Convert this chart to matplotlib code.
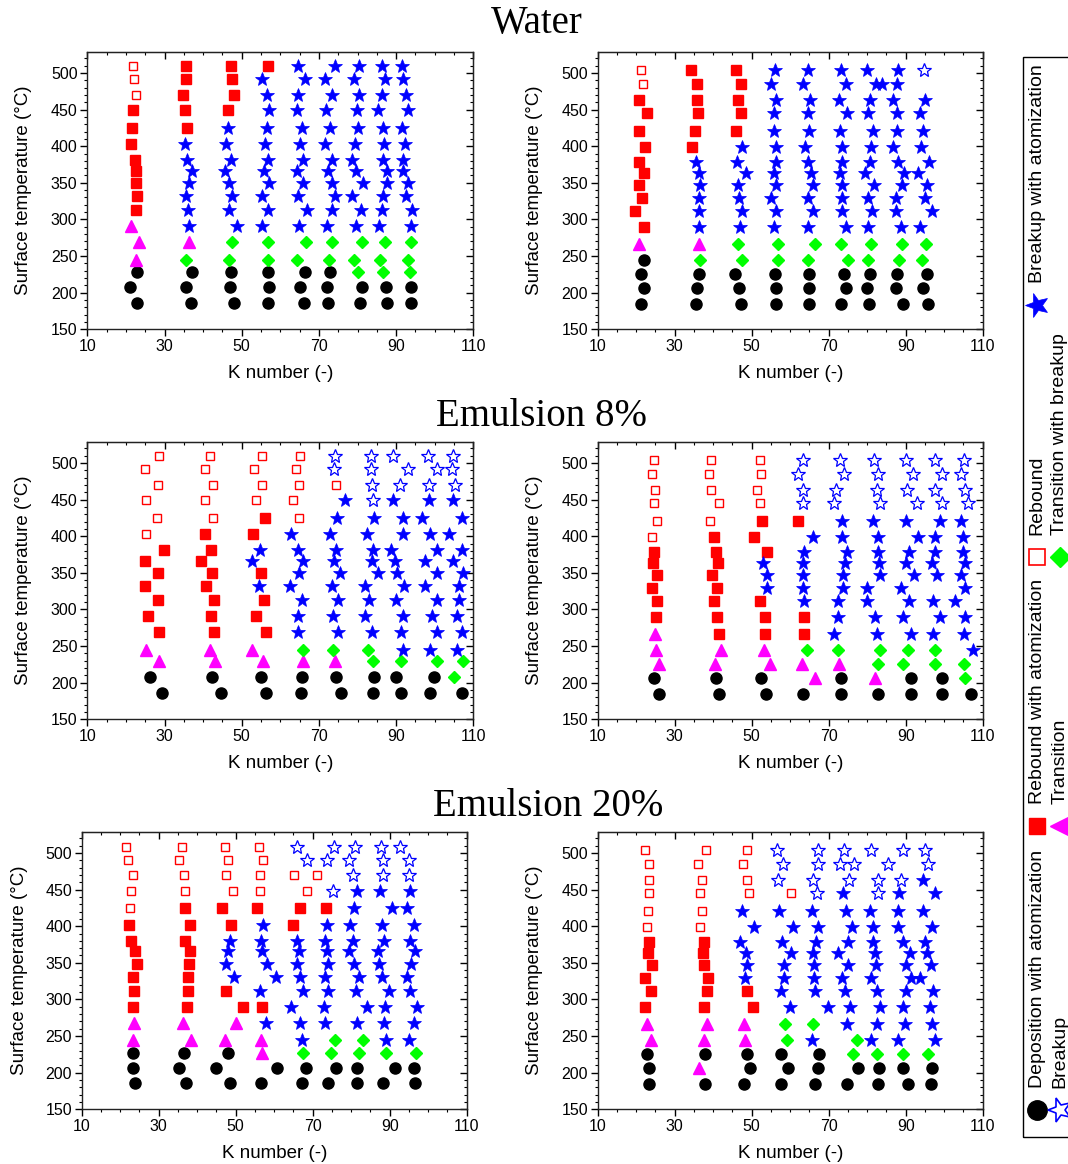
import matplotlib.pyplot as plt
from matplotlib.lines import Line2D
from matplotlib.markers import MarkerStyle
from matplotlib.patches import Rectangle
from matplotlib.ticker import MultipleLocator, FixedLocator
from matplotlib.transforms import Affine2D

plt.rcParams['font.family'] = ['Liberation Sans', 'DejaVu Sans']

# regime codes per point (bottom -> top in each column):
# c deposition with atomization, t transition, S rebound with atomization,
# s rebound, d transition with breakup, X breakup with atomization, x breakup, . none

# ---- Water, left
T_water_l = [186, 208, 228, 245, 269, 291, 313, 332, 350, 366, 381, 403, 425, 449, 470, 492, 509]
K_water_l = [
    [22.8, 21.1, 23.0, 22.5, 23.3, 21.2, 22.7, 22.8, 22.6, 22.5, 22.3, 21.3, 21.7, 21.9, 22.6, 22.1, 21.9],
    [36.8, 35.5, 37.0, 35.6, 36.3, 36.4, 36.0, 35.6, 36.3, 37.0, 35.7, 35.4, 35.8, 35.2, 34.9, 35.6, 35.6],
    [48.1, 47.0, 47.1, 46.7, 47.5, 48.9, 46.8, 47.4, 46.8, 45.8, 47.3, 45.9, 46.4, 46.5, 48.0, 47.5, 47.3],
    [56.7, 57.0, 56.7, 56.7, 56.9, 55.3, 56.7, 55.3, 57.2, 55.9, 56.8, 56.0, 56.6, 57.0, 56.6, 55.3, 56.9],
    [66.2, 65.1, 66.5, 64.4, 66.6, 64.9, 67.0, 64.6, 66.0, 64.2, 66.0, 65.1, 65.6, 64.4, 64.7, 66.4, 64.7],
    [72.4, 72.2, 72.9, 72.6, 73.5, 72.0, 73.3, 74.2, 73.3, 72.4, 73.5, 71.6, 73.0, 71.8, 73.3, 71.6, 74.2],
    [80.6, 81.1, 80.2, 79.1, 81.1, 79.6, 80.9, 78.7, 81.3, 79.6, 78.7, 79.4, 80.0, 79.8, 80.5, 79.1, 80.5],
    [87.6, 87.4, 86.7, 85.8, 87.0, 85.6, 86.3, 86.5, 87.6, 87.6, 86.7, 86.9, 86.7, 85.4, 86.3, 87.1, 86.4],
    [93.8, 93.9, 93.6, 93.2, 93.9, 93.8, 94.2, 92.6, 93.2, 91.9, 91.7, 92.3, 91.6, 93.0, 92.6, 91.7, 91.5],
]
C_water_l = ["ccctttSSSSSSSSsss", "cccdtXXXXXXXSSSSS", "cccddXXXXXXXXSSSS",
             "cccddXXXXXXXXXXXS", "cccddXXXXXXXXXXXX", "cccddXXXXXXXXXXXX",
             "ccdddXXXXXXXXXXXX", "ccdddXXXXXXXXXXXX", "ccdddXXXXXXXXXXXX"]
E_water_l = []

# ---- Water, right
T_water_r = [185, 206, 225, 244, 267, 289, 311, 329, 347, 363, 378, 399, 421, 445, 463, 485, 504]
K_water_r = [
    [21.2, 21.9, 21.3, 22.0, 20.8, 21.9, 19.7, 21.6, 20.6, 21.9, 20.7, 22.2, 20.7, 22.7, 20.6, 21.7, 21.3],
    [35.5, 35.9, 36.4, 36.6, 36.3, 36.3, 36.3, 36.4, 36.6, 36.4, 35.5, 34.4, 35.3, 36.0, 35.8, 35.7, 34.2],
    [47.2, 46.8, 45.7, 47.6, 46.4, 47.0, 47.4, 46.8, 46.5, 48.5, 46.3, 47.4, 45.8, 47.1, 46.5, 47.2, 46.0],
    [56.3, 56.2, 56.1, 56.8, 56.9, 55.8, 56.2, 55.0, 56.3, 55.8, 56.2, 56.2, 55.9, 55.9, 56.2, 55.0, 56.1],
    [64.9, 65.0, 64.8, 64.6, 66.5, 64.7, 65.8, 64.6, 65.8, 65.4, 64.6, 63.9, 65.0, 64.6, 65.2, 63.3, 64.6],
    [73.1, 74.4, 74.1, 74.9, 73.1, 74.6, 73.4, 73.4, 73.4, 73.0, 73.4, 73.4, 73.0, 74.7, 72.8, 74.5, 73.2],
    [80.5, 79.9, 80.8, 80.3, 81.0, 80.3, 81.2, 80.1, 81.8, 79.5, 80.8, 81.0, 81.6, 80.3, 80.8, 82.2, 79.9],
    [89.2, 87.4, 87.7, 88.3, 89.0, 88.8, 87.4, 87.4, 89.0, 89.6, 88.1, 86.6, 87.8, 87.7, 86.8, 87.7, 87.9],
    [95.9, 94.4, 95.5, 94.2, 95.2, 93.7, 96.8, 94.9, 95.5, 93.3, 96.1, 93.9, 94.6, 93.7, 94.9, None, 94.8],
]
C_water_r = ["cccctSSSSSSSSSSss", "cccdtXXXXXXSSSSSS", "cccddXXXXXXXSSSSS",
             "cccddXXXXXXXXXXXX", "cccddXXXXXXXXXXXX", "cccddXXXXXXXXXXXX",
             "cccddXXXXXXXXXXXX", "cccddXXXXXXXXXXXX", "cccddXXXXXXXXXX.x"]
E_water_r = [(83.8, 485, 'X')]

# ---- Emulsion 8%, left
T_e8_l = [186, 208, 230, 245, 269, 291, 313, 332, 350, 366, 381, 403, 425, 449, 470, 492, 509]
K_e8_l = [
    [29.3, 26.2, 28.7, 25.1, 28.7, 25.6, 28.2, 24.9, 28.3, 25.0, 29.9, 25.2, 28.0, 25.1, 28.4, 24.9, 28.6],
    [44.6, 42.2, 43.1, 41.8, 42.9, 42.0, 42.8, 40.7, 42.2, 39.4, 42.1, 40.4, 42.5, 40.6, 42.6, 40.5, 41.8],
    [56.2, 55.0, 55.4, 52.7, 56.3, 53.6, 55.8, 54.6, 55.1, 52.6, 54.7, 52.9, 56.1, 53.6, 55.3, 53.3, 55.2],
    [65.3, 65.6, 66.0, 65.8, 64.7, 64.7, 65.5, 62.5, 64.9, 66.0, 64.7, 62.7, 64.8, 63.4, 64.8, 64.1, 65.0],
    [75.6, 74.4, 74.2, 73.7, 75.0, 73.7, 75.0, 73.5, 75.5, 74.0, 74.4, 73.0, 74.6, 76.8, 74.4, 74.0, 74.3],
    [83.9, 84.3, 83.9, 82.8, 83.7, 81.9, 83.1, 81.9, 85.2, 83.7, 83.9, 82.4, 84.3, 83.9, 83.7, 83.5, 83.5],
    [91.2, 90.0, 91.2, 91.7, 91.2, 91.7, 90.0, 92.0, 90.3, 89.7, 88.8, 91.9, 91.7, 89.3, 91.0, 93.2, 89.1],
    [98.8, 99.8, 100.5, 98.9, 100.7, 99.2, 100.5, 97.5, 100.5, 97.5, 100.5, 98.8, 96.6, 98.6, 98.6, 100.5, 98.3],
    [107.0, 105.1, 107.4, 105.9, 107.2, 105.9, 106.4, 106.4, 107.4, 104.8, 107.0, 103.8, 107.0, 104.7, 105.3, 104.6, 104.7],
]
C_e8_l = ["ccttSSSSSSSssssss", "ccttSSSSSSSSsssss", "ccttSSSXSXXSSssss",
          "cctdXXXXXXXXsssss", "cctdXXXXXXXXXXsxx", "ccddXXXXXXXXXxxxx",
          "ccdXXXXXXXXXXXxxx", "ccdXXXXXXXXXXXxxx", "cddXXXXXXXXXXXxxx"]
E_e8_l = []

# ---- Emulsion 8%, right
T_e8_r = [185, 206, 225, 244, 267, 289, 311, 329, 347, 363, 378, 399, 421, 445, 463, 485, 504]
K_e8_r = [
    [25.8, 24.5, 26.0, 25.1, 24.9, 25.2, 25.4, 24.2, 25.4, 24.4, 24.6, 24.1, 25.4, 24.5, 24.9, 24.2, 24.5],
    [41.5, 40.7, 40.5, 42.0, 41.6, 41.0, 40.2, 40.9, 39.8, 41.2, 40.7, 40.3, 39.2, 41.5, 39.4, 38.9, 39.4],
    [53.6, 52.3, 54.8, 53.2, 53.5, 53.5, 52.2, 53.9, 53.9, 52.9, 53.9, 50.7, 52.8, 52.1, 51.5, 52.3, 52.2],
    [63.2, 66.5, 63.0, 64.4, 63.6, 63.7, 63.7, 63.4, 63.3, 63.2, 63.6, 65.8, 62.1, 63.2, 63.4, 62.1, 63.2],
    [73.2, 73.2, 72.8, 72.5, 71.5, 72.4, 72.5, 73.8, 73.6, 74.3, 74.7, 73.4, 73.4, 71.5, 71.9, 74.1, 73.0],
    [82.9, 81.9, 82.9, 83.4, 82.5, 81.9, 79.9, 79.9, 83.3, 83.1, 82.9, 82.7, 81.6, 83.4, 82.5, 82.9, 81.7],
    [91.4, 91.4, 89.4, 90.5, 91.4, 89.4, 90.9, 88.8, 92.2, 90.0, 90.9, 93.3, 90.0, 92.9, 90.3, 91.8, 90.0],
    [99.5, 99.5, 97.6, 97.5, 97.2, 98.9, 97.2, None, 98.2, 96.8, 97.6, 97.6, 98.9, 99.5, 97.6, 99.5, 97.5],
    [107.0, 105.3, 105.2, 107.6, 105.2, 105.3, 102.7, 105.4, 104.3, 105.4, 105.0, 104.8, 104.3, 106.3, 105.3, 104.3, 105.2],
]
C_e8_r = ["cctttSSSSSSssssss", "ccttSSSSSSSSsssss", "ccttSSSXXXSSSssss",
          "cttdSSXXXXXXSxxxx", "cctdXXXXXXXXXxxxx", "ctddXXXXXXXXXxxxx",
          "ccddXXXXXXXXXxxxx", "ccddXXX.XXXXXxxxx", "cddXXXXXXXXXXxxxx"]
E_e8_r = []

# ---- Emulsion 20%, left
T_e20_l = [185.5, 207, 227, 244.5, 268, 290, 312, 331, 349, 365.5, 380, 402, 424.5, 448, 469.5, 491, 508]
K_e20_l = [
    [23.9, 23.4, 23.4, 23.2, 23.7, 23.2, 23.5, 23.2, 24.3, 23.9, 22.7, 22.4, 22.5, 22.9, 23.2, 21.9, 21.4],
    [37.0, 35.4, 36.7, 38.4, 36.2, 37.4, 37.7, 37.6, 37.9, 38.0, 36.9, 38.1, 36.8, 36.9, 36.7, 35.3, 36.0],
    [48.5, 44.9, 48.1, 47.1, 50.1, 51.8, 47.5, 49.6, 47.4, 48.1, 48.5, 48.8, 46.4, 49.4, 47.5, 48.0, 47.1],
    [56.5, 60.8, 56.8, 56.5, 57.9, 56.8, 56.3, 60.5, 58.2, 56.8, 56.6, 57.2, 55.6, 56.3, 56.3, 57.2, 56.1],
    [67.3, 68.2, 67.4, 67.3, 66.7, 64.3, 67.4, 66.7, 65.8, 66.4, 65.8, 64.8, 66.7, 68.4, 65.2, 68.6, 66.0],
    [74.1, 76.1, 74.7, 75.8, 73.2, 72.9, 74.1, 73.2, 74.1, 73.7, 73.2, 73.7, 73.4, 75.2, 71.2, 73.7, 75.5],
    [81.4, 81.4, 81.9, 83.0, 81.6, 84.2, 81.3, 81.9, 80.7, 79.5, 80.4, 79.7, 80.7, 81.6, 80.4, 79.3, 81.1],
    [88.2, 91.4, 89.0, 89.0, 88.5, 88.8, 89.7, 87.9, 87.1, 86.9, 88.6, 87.9, 90.7, 87.5, 88.2, 88.2, 87.8],
    [96.6, 96.4, 96.8, 95.1, 96.2, 97.0, 95.3, 94.6, 95.6, 96.6, 95.3, 96.2, 94.4, 95.3, 94.9, 94.9, 92.7],
]
C_e20_l = ["cccttSSSSSSSsssss", "cccttSSSSSSSSssss", "cccttSSXXXXSSssss",
           "ccttXSXXXXXXSssss", "ccdXXXXXXXXSSssxx", "ccddXXXXXXXXSxsxx",
           "ccddXXXXXXXXXXxxx", "ccdXXXXXXXXXXXxxx", "ccdXXXXXXXXXXXxxx"]
E_e20_l = []

# ---- Emulsion 20%, right
T_e20_r = [185, 206, 225, 244, 266, 289, 311, 329, 347, 363, 378, 399, 421, 445, 463, 485, 504]
K_e20_r = [
    [23.3, 23.3, 22.7, 23.8, 22.9, 22.3, 23.8, 22.3, 24.0, 23.0, 23.2, 22.9, 23.0, 23.3, 23.3, 23.2, 22.3],
    [37.9, 36.4, 37.9, 37.5, 38.3, 37.5, 38.3, 38.6, 37.7, 37.3, 37.5, 36.6, 37.0, 36.6, 37.2, 36.0, 38.2],
    [48.0, 49.6, 48.7, 48.3, 48.1, 50.4, 48.7, 48.3, 48.7, 48.5, 47.0, 50.7, 47.4, 49.3, 48.7, 47.7, 48.7],
    [57.6, 59.3, 57.6, 59.1, 58.7, 60.0, 57.6, 58.5, 58.3, 60.2, 57.8, 60.8, 57.1, 60.1, 56.8, 58.2, 56.5],
    [66.5, 67.2, 67.5, 65.6, 65.9, 69.8, 66.5, 66.2, 66.2, 65.8, 66.7, 67.3, 65.6, 66.9, 66.0, 67.3, 67.3],
    [74.7, 77.5, 76.4, 77.3, 74.7, 75.6, 74.3, 73.4, 74.9, 72.3, 74.9, 76.0, 74.4, 73.8, 75.3, 72.9, 73.9],
    [82.9, 83.1, 82.5, 81.0, 82.5, 83.3, 82.5, 81.0, 82.3, 81.9, 81.4, 81.4, 80.8, 82.9, 82.9, 76.7, 81.0],
    [90.5, 89.2, 89.2, 87.9, 89.7, 89.2, 90.1, 91.4, 90.0, 91.1, 89.4, 87.9, 88.1, 88.3, 88.8, 85.3, 89.4],
    [96.6, 96.8, 95.9, 97.6, 96.9, 96.3, 97.2, 93.7, 96.6, 95.6, 95.0, 96.8, 94.4, 97.6, 94.4, 95.7, 95.0],
]
C_e20_r = ["cccttSSSSSSssssss", "ctcttSSSSSSssssss", "cccttSSXXXXXXssss",
           "cccddXXXXXXXXsxxx", "cccXdXXXXXXXXxxxx", "ccddXXXXXXXXXXxxx",
           "ccdXXXXXXXXXXxxxx", "ccdXXXXXXXXXXXxxx", "ccdXXXXXXXXXXXXxx"]
E_e20_r = []

titles = ["Water", "Emulsion 8%", "Emulsion 20%"]
x_ticks = [10, 30, 50, 70, 90, 110]
y_ticks = [150, 200, 250, 300, 350, 400, 450, 500]

legend_row1 = [('c', 'Deposition with atomization'), ('S', 'Rebound with atomization'),
               ('s', 'Rebound'), ('X', 'Breakup with atomization')]
legend_row2 = [('x', 'Breakup'), ('t', 'Transition'), ('d', 'Transition with breakup')]

styles = {
    'c': dict(marker='o', ms=8, mfc='black', mec='black'),
    't': dict(marker='^', ms=8.5, mfc='#ff00ff', mec='#ff00ff'),
    'S': dict(marker='s', ms=7, mfc='#ff0000', mec='#ff0000'),
    's': dict(marker='s', ms=6, mfc='white', mec='#ff0000', mew=1),
    'd': dict(marker='D', ms=6.5, mfc='#00ff00', mec='#00ff00'),
    'X': dict(marker='*', ms=10, mfc='#0000ff', mec='#0000ff', mew=0.5),
    'x': dict(marker='*', ms=10, mfc='white', mec='#0000ff', mew=0.9),
}

W, H = 1068, 1164
fig = plt.figure(figsize=(W / 100, H / 100), dpi=100)

# axes boxes in pixels: left, top, right, bottom, and y-label centre x
boxes = [(87.3, 51.7, 473.3, 329.3, 22), (597.7, 51.7, 982.7, 329.3, 533),
         (87.3, 441.7, 473.3, 719.3, 22), (597.7, 441.7, 982.7, 719.3, 533),
         (81.7, 831.7, 466.7, 1109.3, 18), (597.7, 831.7, 982.7, 1109.3, 533)]

panels = [(T_water_l, K_water_l, C_water_l, E_water_l),
          (T_water_r, K_water_r, C_water_r, E_water_r),
          (T_e8_l, K_e8_l, C_e8_l, E_e8_l),
          (T_e8_r, K_e8_r, C_e8_r, E_e8_r),
          (T_e20_l, K_e20_l, C_e20_l, E_e20_l),
          (T_e20_r, K_e20_r, C_e20_r, E_e20_r)]


def draw(ax, T, K, C, extra):
    pts = {c: ([], []) for c in styles}
    for kcol, ccol in zip(K, C):
        for t, k, c in zip(T, kcol, ccol):
            if c in pts and k is not None:
                pts[c][0].append(k)
                pts[c][1].append(t)
    for k, t, c in extra:
        pts[c][0].append(k)
        pts[c][1].append(t)
    for c, (xs, ys) in pts.items():
        ax.plot(xs, ys, ls='none', **styles[c])


def ticks(axis, major, minor):
    axis.set_major_locator(FixedLocator(major))
    axis.set_minor_locator(MultipleLocator(minor))


for (l, t, r, b, ylx), (T, K, C, E) in zip(boxes, panels):
    ax = fig.add_axes([l / W, 1 - b / H, (r - l) / W, (b - t) / H])
    draw(ax, T, K, C, E)
    ax.set_xlim(10, 110)
    ax.set_ylim(150, 529)
    ticks(ax.xaxis, x_ticks, 5)
    ticks(ax.yaxis, y_ticks, 10)
    ax.tick_params(which='both', direction='out', labelsize=11.5, width=1, pad=2)
    ax.tick_params(which='major', length=5)
    ax.tick_params(which='minor', length=2.5, width=0.8)
    for sp in ax.spines.values():
        sp.set_linewidth(1)
        sp.set_color('#222222')
    # mirrored ticks pointing inwards on top and right
    sx = ax.secondary_xaxis('top')
    ticks(sx.xaxis, x_ticks, 5)
    sx.tick_params(which='both', direction='in', labeltop=False, width=1)
    sx.tick_params(which='major', length=5)
    sx.tick_params(which='minor', length=2.5, width=0.8)
    sy = ax.secondary_yaxis('right')
    ticks(sy.yaxis, y_ticks, 10)
    sy.tick_params(which='both', direction='in', labelright=False, width=1)
    sy.tick_params(which='major', length=5)
    sy.tick_params(which='minor', length=2.5, width=0.8)
    ax.set_xlabel('K number (-)', fontsize=13.5)
    ax.set_ylabel('Surface temperature (°C)', fontsize=13.5)
    ax.xaxis.set_label_coords(0.5, -0.128)
    ax.yaxis.set_label_coords((ylx + 10 - l) / (r - l), 0.5)

# panel group titles
for title, (tx, ty) in zip(titles, [(537, 24), (542, 416), (548, 806)]):
    fig.text(tx / W, 1 - ty / H, title, ha='center', va='center',
             fontsize=28, family='Liberation Serif')

# rotated legend box on the right edge
fig.add_artist(Rectangle((1023 / W, 1 - 1137 / H), 80 / W, 1080 / H,
                         transform=fig.transFigure, fill=False, ec='black', lw=1,
                         clip_on=False))
star_rot = MarkerStyle('*', transform=Affine2D().rotate_deg(90))
leg_marker = {'c': dict(marker='o', ms=14), 'S': dict(marker='s', ms=12),
              's': dict(marker='s', ms=12, mfc='white', mew=1.2),
              'X': dict(marker=star_rot, ms=18), 'x': dict(marker=star_rot, ms=18, mfc='white', mew=1.2),
              't': dict(marker='<', ms=15), 'd': dict(marker='D', ms=10)}
row_y = [1110, 826, 557, 305]
for entries, mx in [(legend_row1, 1037), (legend_row2, 1060)]:
    for (code, label), my in zip(entries, row_y):
        st = dict(styles[code])
        st.update(leg_marker[code])
        fig.add_artist(Line2D([mx / W], [1 - my / H], transform=fig.transFigure, ls='none', **st))
        fig.text(mx / W, 1 - (my - 22) / H, label, rotation=90, ha='center', va='bottom',
                 fontsize=14)

fig.savefig('out.png', dpi=100)
